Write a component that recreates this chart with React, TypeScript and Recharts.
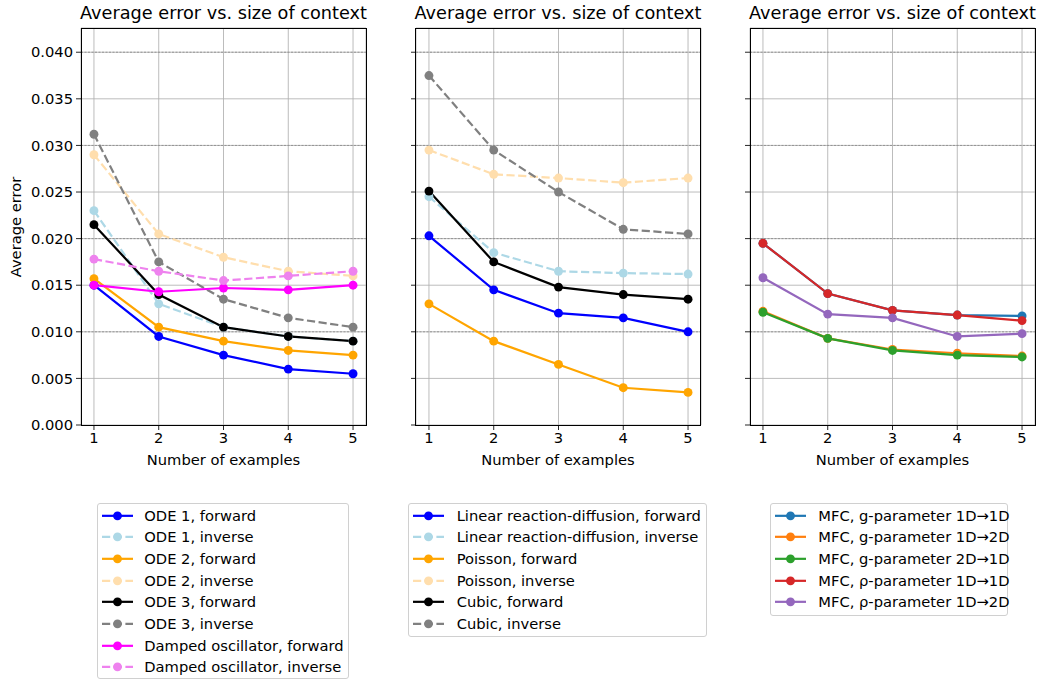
import React from 'react';
import { LineChart, Line, XAxis, YAxis, CartesianGrid, ReferenceLine } from 'recharts';

// ---- data ----
const xs = [1, 2, 3, 4, 5];
const yTicks = [0, 0.005, 0.01, 0.015, 0.02, 0.025, 0.03, 0.035, 0.04];
const darkGridValues = [0.01, 0.02, 0.03, 0.04];

// panel 1
const ode1Forward = [0.015, 0.0095, 0.0075, 0.006, 0.0055];
const ode1Inverse = [0.023, 0.013, 0.0105, 0.0095, 0.009];
const ode2Forward = [0.0157, 0.0105, 0.009, 0.008, 0.0075];
const ode2Inverse = [0.029, 0.0205, 0.018, 0.0165, 0.016];
const ode3Forward = [0.0215, 0.014, 0.0105, 0.0095, 0.009];
const ode3Inverse = [0.0312, 0.0175, 0.0135, 0.0115, 0.0105];
const dampedForward = [0.015, 0.0143, 0.0147, 0.0145, 0.015];
const dampedInverse = [0.0178, 0.0165, 0.0155, 0.016, 0.0165];

// panel 2
const lrdForward = [0.0203, 0.0145, 0.012, 0.0115, 0.01];
const lrdInverse = [0.0245, 0.0185, 0.0165, 0.0163, 0.0162];
const poissonForward = [0.013, 0.009, 0.0065, 0.004, 0.0035];
const poissonInverse = [0.0295, 0.0269, 0.0265, 0.026, 0.0265];
const cubicForward = [0.0251, 0.0175, 0.0148, 0.014, 0.0135];
const cubicInverse = [0.0375, 0.0295, 0.025, 0.021, 0.0205];

// panel 3
const mfcG11 = [0.0195, 0.0141, 0.0123, 0.0118, 0.0117];
const mfcG12 = [0.0122, 0.0093, 0.0081, 0.0077, 0.0074];
const mfcG21 = [0.0121, 0.0093, 0.008, 0.0075, 0.0073];
const mfcR11 = [0.0195, 0.0141, 0.0123, 0.0118, 0.0112];
const mfcR12 = [0.0158, 0.0119, 0.0115, 0.0095, 0.0098];

type Series = { name: string; color: string; dashed: boolean; values: number[] };

const panel1Series: Series[] = [
  { name: 'ODE 1, forward', color: '#0000ff', dashed: false, values: ode1Forward },
  { name: 'ODE 1, inverse', color: '#add8e6', dashed: true, values: ode1Inverse },
  { name: 'ODE 2, forward', color: '#ffa500', dashed: false, values: ode2Forward },
  { name: 'ODE 2, inverse', color: '#ffdead', dashed: true, values: ode2Inverse },
  { name: 'ODE 3, forward', color: '#000000', dashed: false, values: ode3Forward },
  { name: 'ODE 3, inverse', color: '#808080', dashed: true, values: ode3Inverse },
  { name: 'Damped oscillator, forward', color: '#ff00ff', dashed: false, values: dampedForward },
  { name: 'Damped oscillator, inverse', color: '#ee82ee', dashed: true, values: dampedInverse },
];

const panel2Series: Series[] = [
  { name: 'Linear reaction-diffusion, forward', color: '#0000ff', dashed: false, values: lrdForward },
  { name: 'Linear reaction-diffusion, inverse', color: '#add8e6', dashed: true, values: lrdInverse },
  { name: 'Poisson, forward', color: '#ffa500', dashed: false, values: poissonForward },
  { name: 'Poisson, inverse', color: '#ffdead', dashed: true, values: poissonInverse },
  { name: 'Cubic, forward', color: '#000000', dashed: false, values: cubicForward },
  { name: 'Cubic, inverse', color: '#808080', dashed: true, values: cubicInverse },
];

const panel3Series: Series[] = [
  { name: 'MFC, g-parameter 1D→1D', color: '#1f77b4', dashed: false, values: mfcG11 },
  { name: 'MFC, g-parameter 1D→2D', color: '#ff7f0e', dashed: false, values: mfcG12 },
  { name: 'MFC, g-parameter 2D→1D', color: '#2ca02c', dashed: false, values: mfcG21 },
  { name: 'MFC, ρ-parameter 1D→1D', color: '#d62728', dashed: false, values: mfcR11 },
  { name: 'MFC, ρ-parameter 1D→2D', color: '#9467bd', dashed: false, values: mfcR12 },
];

const TITLE = 'Average error vs. size of context';
const FONT = '"DejaVu Sans", sans-serif';
const DASH = '8.2 3.5';
const FS = 14.7;
const TITLE_FS = 17.7;
const DOT_R = 4.45;
const LW = 2.2;

const PLOT_TOP = 28;
const PLOT_W = 285;
const PLOT_H = 397;
const YAXIS_W = 81;

function Panel({ plotLeft, series, showYLabels }: { plotLeft: number; series: Series[]; showYLabels: boolean }) {
  const data = xs.map((x, i) => {
    const row: any = { x };
    series.forEach((s, j) => {
      row['s' + j] = s.values[i];
    });
    return row;
  });
  return (
    <>
      <div style={{ position: 'absolute', left: plotLeft - YAXIS_W, top: 0 }}>
        <LineChart
          width={YAXIS_W + PLOT_W + 6}
          height={480}
          data={data}
          margin={{ top: PLOT_TOP, right: 6, left: 0, bottom: 0 }}
        >
          <CartesianGrid stroke="#b0b0b0" strokeWidth={0.85} />
          {darkGridValues.map((v) => (
            <ReferenceLine key={v} y={v} stroke="#8a8a8a" strokeWidth={0.85} strokeDasharray="2 1.5" ifOverflow="hidden" />
          ))}
          <XAxis
            dataKey="x"
            type="number"
            domain={[0.8, 5.2]}
            ticks={[1, 2, 3, 4, 5]}
            interval={0}
            allowDataOverflow
            height={480 - PLOT_TOP - PLOT_H}
            tickSize={5}
            tickMargin={3}
            axisLine={false}
            tickLine={{ stroke: '#000', strokeWidth: 0.85 }}
            tick={{ fill: '#000', fontSize: FS, fontFamily: FONT }}
          />
          <YAxis
            type="number"
            domain={[0, 0.0426]}
            ticks={yTicks}
            interval={0}
            allowDataOverflow
            width={YAXIS_W}
            tickSize={5}
            tickMargin={3}
            axisLine={false}
            tickLine={{ stroke: '#000', strokeWidth: 0.85 }}
            tick={{ fill: '#000', fontSize: FS, fontFamily: FONT }}
            tickFormatter={(v: number) => (showYLabels ? v.toFixed(3) : '')}
          />
          {series.map((s, j) => (
            <Line
              key={s.name}
              dataKey={'s' + j}
              name={s.name}
              type="linear"
              stroke={s.color}
              strokeWidth={LW}
              strokeDasharray={s.dashed ? DASH : undefined}
              dot={{ r: DOT_R, fill: s.color, stroke: s.color, strokeWidth: 0, strokeDasharray: '' }}
              activeDot={false}
              isAnimationActive={false}
            />
          ))}
        </LineChart>
      </div>
      {/* spines */}
      <div
        style={{
          position: 'absolute',
          left: plotLeft - 0.5,
          top: PLOT_TOP - 0.5,
          width: PLOT_W + 1,
          height: PLOT_H + 1,
          border: '1px solid #000',
          boxSizing: 'border-box',
          pointerEvents: 'none',
        }}
      />
      {/* title */}
      <div
        style={{
          position: 'absolute',
          left: plotLeft - 60,
          width: PLOT_W + 120,
          top: 3,
          lineHeight: '21px',
          fontSize: TITLE_FS,
          textAlign: 'center',
          whiteSpace: 'nowrap',
          color: '#000',
        }}
      >
        {TITLE}
      </div>
      {/* x label */}
      <div
        style={{
          position: 'absolute',
          left: plotLeft - 60,
          width: PLOT_W + 120,
          top: 451,
          lineHeight: '17px',
          fontSize: FS,
          textAlign: 'center',
          whiteSpace: 'nowrap',
          color: '#000',
        }}
      >
        Number of examples
      </div>
    </>
  );
}

function LegendBox({
  left,
  top,
  width,
  height,
  textLeft,
  series,
}: {
  left: number;
  top: number;
  width: number;
  height: number;
  textLeft: number;
  series: Series[];
}) {
  const rowH = 21.65;
  return (
    <div
      style={{
        position: 'absolute',
        left,
        top,
        width,
        height,
        border: '1px solid #d0d0d0',
        borderRadius: 3,
        boxSizing: 'border-box',
        background: '#fff',
      }}
    >
      {series.map((s, i) => {
        const cy = 12.5 + i * rowH - 1;
        return (
          <div
            key={s.name}
            style={{ position: 'absolute', left: 0, top: cy - rowH / 2, height: rowH, width: width - 2 }}
          >
            <svg width={31} height={rowH} style={{ position: 'absolute', left: 4, top: 0 }}>
              <line
                x1={0}
                x2={31}
                y1={rowH / 2}
                y2={rowH / 2}
                stroke={s.color}
                strokeWidth={LW}
                strokeDasharray={s.dashed ? DASH : undefined}
              />
              <circle cx={15.5} cy={rowH / 2} r={DOT_R} fill={s.color} />
            </svg>
            <div
              style={{
                position: 'absolute',
                left: textLeft - 1,
                top: 0,
                lineHeight: rowH + 'px',
                fontSize: FS,
                whiteSpace: 'nowrap',
                color: '#000',
              }}
            >
              {s.name}
            </div>
          </div>
        );
      })}
    </div>
  );
}

export default function App() {
  return (
    <div
      style={{
        position: 'absolute',
        left: 0,
        top: 0,
        width: 1039,
        height: 681,
        overflow: 'hidden',
        background: '#fff',
        fontFamily: FONT,
      }}
    >
      <Panel plotLeft={81} series={panel1Series} showYLabels={true} />
      <Panel plotLeft={415.5} series={panel2Series} showYLabels={false} />
      <Panel plotLeft={750} series={panel3Series} showYLabels={false} />
      <div
        style={{
          position: 'absolute',
          left: 15,
          top: 226.5,
          transform: 'translate(-50%, -50%) rotate(-90deg)',
          fontSize: FS,
          lineHeight: '17px',
          whiteSpace: 'nowrap',
          color: '#000',
        }}
      >
        Average error
      </div>
      <LegendBox left={96.7} top={503} width={252.3} height={176} textLeft={47.6} series={panel1Series} />
      <LegendBox left={408} top={503} width={299} height={134} textLeft={48.7} series={panel2Series} />
      <LegendBox left={770} top={503} width={238} height={113} textLeft={48.3} series={panel3Series} />
    </div>
  );
}
